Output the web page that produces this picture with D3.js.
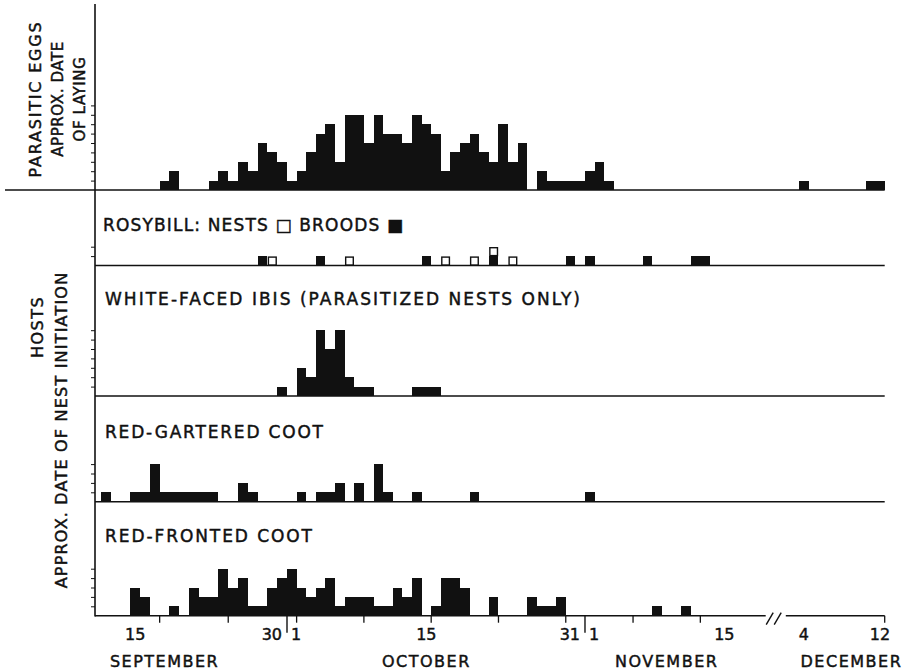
<!DOCTYPE html>
<html><head><meta charset="utf-8">
<script src="https://cdn.jsdelivr.net/npm/d3@7"></script>
<style>
body{margin:0;background:#fff;}
svg{display:block;background:#fff;}
text{font-family:"DejaVu Sans",sans-serif;fill:#111;stroke:#111;stroke-width:0.45px;}
</style></head><body>
<svg id="chart" width="908" height="671"></svg>
<script>
// ---------------- data ----------------
const eggDays   = ["Sep 18","Sep 19","Sep 23","Sep 24","Sep 25","Sep 26","Sep 27","Sep 28","Sep 29","Sep 30",
                   "Oct 1","Oct 2","Oct 3","Oct 4","Oct 5","Oct 6","Oct 7","Oct 8","Oct 9","Oct 10",
                   "Oct 11","Oct 12","Oct 13","Oct 14","Oct 15","Oct 16","Oct 17","Oct 18","Oct 19","Oct 20",
                   "Oct 21","Oct 22","Oct 23","Oct 24","Oct 25","Oct 27","Oct 28","Oct 29","Oct 30","Oct 31",
                   "Nov 1","Nov 2","Nov 3","Dec 4","Dec 11","Dec 12"];
const eggCounts = [1,2,1,2,1,3,2,5,4,3,
                   1,2,4,6,7,3,8,8,5,8,
                   6,6,5,8,7,6,2,4,5,6,
                   4,3,7,3,5,2,1,1,1,1,
                   2,3,1,1,1,1];

const rosyBroodDays = ["Sep 28","Oct 4","Oct 15","Oct 22","Oct 30","Nov 1","Nov 7","Nov 12","Nov 13"];
const rosyNestDays  = ["Sep 29","Oct 7","Oct 17","Oct 20","Oct 22","Oct 24"];

const ibisDays   = ["Sep 30","Oct 2","Oct 3","Oct 4","Oct 5","Oct 6","Oct 7","Oct 8","Oct 9","Oct 14","Oct 15","Oct 16"];
const ibisCounts = [1,3,2,7,5,7,2,1,1,1,1,1];

const gartDays   = ["Sep 12","Sep 15","Sep 16","Sep 17","Sep 18","Sep 19","Sep 20","Sep 21","Sep 22","Sep 23",
                    "Sep 26","Sep 27","Oct 2","Oct 4","Oct 5","Oct 6","Oct 8","Oct 10","Oct 11","Oct 14","Oct 20","Nov 1"];
const gartCounts = [1,1,1,4,1,1,1,1,1,1,
                    2,1,1,1,1,2,2,4,1,1,1,1];

const frontDays   = ["Sep 15","Sep 16","Sep 19","Sep 21","Sep 22","Sep 23","Sep 24","Sep 25","Sep 26","Sep 27",
                     "Sep 28","Sep 29","Sep 30","Oct 1","Oct 2","Oct 3","Oct 4","Oct 5","Oct 6","Oct 7",
                     "Oct 8","Oct 9","Oct 10","Oct 11","Oct 12","Oct 13","Oct 14","Oct 16","Oct 17","Oct 18",
                     "Oct 19","Oct 22","Oct 26","Oct 27","Oct 28","Oct 29","Nov 8","Nov 11"];
const frontCounts = [3,2,1,3,2,2,5,3,4,1,
                     1,3,4,5,3,2,3,4,1,2,
                     2,2,1,1,3,2,4,1,4,4,
                     3,2,2,1,1,2,1,1];

const weekTickDays   = ["Sep 18","Sep 25","Oct 2","Oct 9","Oct 16","Oct 23","Oct 30","Nov 6","Nov 13","Dec 13"];
const monthStartDays = ["Oct 1","Nov 1"];
const tickLabelDays  = ["Sep 15","Sep 30","Oct 1","Oct 15","Oct 31","Nov 1","Nov 15","Dec 4","Dec 12"];
const tickLabelTexts = ["15","30","1","15","31","1","15","4","12"];
const monthNames     = ["SEPTEMBER","OCTOBER","NOVEMBER","DECEMBER"];
const monthNameDays  = ["Sep 18","Oct 15","Nov 9","Dec 9"];

const rosyTitle  = "ROSYBILL:  NESTS \u25A1  BROODS \u25A0";
const ibisTitle  = "WHITE-FACED  IBIS  (PARASITIZED  NESTS  ONLY)";
const gartTitle  = "RED-GARTERED  COOT";
const frontTitle = "RED-FRONTED  COOT";
const leftTop    = ["PARASITIC EGGS","APPROX. DATE","OF LAYING"];
const leftHosts  = ["HOSTS","APPROX. DATE OF NEST INITIATION"];

// ---------------- helpers ----------------
const parseDay = d3.timeParse("%b %d");
const origin = parseDay("Sep 1");
const dayIndex = s => d3.timeDay.count(origin, parseDay(s));

const svg = d3.select("#chart");
const ink = "#111";

// piecewise day scale (break between late November and December)
const x = d3.scaleLinear()
  .domain([10.4, 30, 79.8, 92.6, 103])
  .range([95, 287, 765.7, 785.8, 884.7]);
const x0 = x(10.4), xEnd = x(103);
const unit = 9.4;

function yFor(base){ return d3.scaleLinear().domain([0,1]).range([base, base-unit]); }

// ---------------- frame ----------------
svg.append("line").attr("x1",x0).attr("x2",x0).attr("y1",4).attr("y2",616.5)
  .attr("stroke",ink).attr("stroke-width",1.6);
svg.append("line").attr("x1",5).attr("x2",xEnd).attr("y1",190).attr("y2",190)
  .attr("stroke",ink).attr("stroke-width",1.6);

// ---------------- histogram panels ----------------
const panels = [
  {base:190,   days:eggDays,   counts:eggCounts,   ticks:9},
  {base:396,   days:ibisDays,  counts:ibisCounts,  ticks:7},
  {base:501.7, days:gartDays,  counts:gartCounts,  ticks:4},
  {base:615.7, days:frontDays, counts:frontCounts, ticks:5}
];

panels.forEach((p,i) => {
  const y = yFor(p.base);
  const data = p.days.map((d,k) => ({t:dayIndex(d), v:p.counts[k]}));
  const g = svg.append("g");
  if (i===1 || i===2) {
    g.append("line").attr("x1",x0).attr("x2",xEnd).attr("y1",p.base).attr("y2",p.base)
      .attr("stroke",ink).attr("stroke-width",1.5);
  }
  g.selectAll("rect").data(data).join("rect")
    .attr("x", d => x(d.t))
    .attr("width", d => x(d.t+1) - x(d.t))
    .attr("y", d => y(d.v))
    .attr("height", d => y(0) - y(d.v))
    .attr("fill", ink)
    .attr("shape-rendering","crispEdges");
  const ax = d3.axisLeft(y).tickValues(d3.range(1, p.ticks+1)).tickSize(4).tickFormat("");
  const ga = svg.append("g").attr("transform",`translate(${x0},0)`).call(ax);
  ga.select(".domain").remove();
  ga.selectAll("line").attr("stroke",ink).attr("stroke-width",1);
});

// ---------------- rosybill squares ----------------
const rosyBase = 265.5;
const yR = yFor(rosyBase);
svg.append("line").attr("x1",x0).attr("x2",xEnd).attr("y1",rosyBase).attr("y2",rosyBase)
  .attr("stroke",ink).attr("stroke-width",1.5);
const broodIdx = rosyBroodDays.map(dayIndex);
const broodData = broodIdx.map(t => ({t, level:0, filled:true}));
const nestData = rosyNestDays.map(dayIndex).map(t => ({t, level: broodIdx.filter(b=>b===t).length, filled:false}));
svg.append("g").selectAll("rect").data(broodData).join("rect")
  .attr("x", d => x(d.t))
  .attr("width", d => x(d.t+1) - x(d.t))
  .attr("y", d => yR(d.level+1))
  .attr("height", d => yR(d.level) - yR(d.level+1))
  .attr("fill", ink)
  .attr("shape-rendering","crispEdges");
svg.append("g").selectAll("rect").data(nestData).join("rect")
  .attr("x", d => x(d.t) + 1)
  .attr("width", d => x(d.t+1) - x(d.t) - 2)
  .attr("y", d => yR(d.level+1) + 1)
  .attr("height", d => (yR(d.level) - yR(d.level+1)) - 1.5)
  .attr("fill", "#fff")
  .attr("stroke", ink)
  .attr("stroke-width", 1.4);
{
  const ax = d3.axisLeft(yR).tickValues([1,2]).tickSize(4).tickFormat("");
  const ga = svg.append("g").attr("transform",`translate(${x0},0)`).call(ax);
  ga.select(".domain").remove();
  ga.selectAll("line").attr("stroke",ink).attr("stroke-width",1);
}

// ---------------- bottom axis ----------------
const axisY = 615.7;
const brk1 = x(79.8), brk2 = x(92.6);
svg.append("line").attr("x1",x0).attr("x2",brk1).attr("y1",axisY).attr("y2",axisY)
  .attr("stroke",ink).attr("stroke-width",1.6);
svg.append("line").attr("x1",brk2).attr("x2",xEnd).attr("y1",axisY).attr("y2",axisY)
  .attr("stroke",ink).attr("stroke-width",1.6);
[brk1+4, brk1+12].forEach(bx => {
  svg.append("line").attr("x1",bx-3.5).attr("x2",bx+3.5).attr("y1",axisY+9).attr("y2",axisY-3)
    .attr("stroke",ink).attr("stroke-width",1.4);
});
svg.append("g").selectAll("line").data(weekTickDays.map(dayIndex)).join("line")
  .attr("x1", t => x(t)).attr("x2", t => x(t))
  .attr("y1", axisY).attr("y2", axisY+7)
  .attr("stroke",ink).attr("stroke-width",1.3);
svg.append("g").selectAll("line").data(monthStartDays.map(dayIndex)).join("line")
  .attr("x1", t => x(t)).attr("x2", t => x(t))
  .attr("y1", axisY).attr("y2", axisY+17)
  .attr("stroke",ink).attr("stroke-width",1.4);

tickLabelDays.forEach((d,k) => {
  const t = dayIndex(d);
  const date = parseDay(d);
  const isFirst = date.getDate() === 1;
  const isLast = d3.timeDay.offset(date,1).getDate() === 1;
  let px = x(t+0.5), anchor = "middle";
  if (isLast) { px = x(t+1) - 5; anchor = "end"; }
  if (isFirst) { px = x(t) + 4; anchor = "start"; }
  svg.append("text").attr("x",px).attr("y",640).attr("text-anchor",anchor)
    .attr("font-size",16).text(tickLabelTexts[k]);
});
monthNames.forEach((m,k) => {
  svg.append("text").attr("x", x(dayIndex(monthNameDays[k])+0.5)).attr("y",667)
    .attr("text-anchor","middle").attr("font-size",16).attr("letter-spacing",1.5).text(m);
});

// ---------------- panel titles ----------------
function title(str, tx, ty, len){
  svg.append("text").attr("x",tx).attr("y",ty).attr("font-size",17)
    .attr("textLength",len).attr("lengthAdjust","spacing").text(str);
}
title(rosyTitle, 103, 230.5, 300);
title(ibisTitle, 105, 304.5, 475);
title(gartTitle, 105, 438, 218);
title(frontTitle, 105, 541.5, 207);

// ---------------- rotated left labels ----------------
function vlabel(str, cx, cy, size, spacing){
  svg.append("text").attr("transform",`translate(${cx},${cy}) rotate(-90)`)
    .attr("text-anchor","middle").attr("dy","0.36em").attr("font-size",size)
    .attr("letter-spacing",spacing).text(str);
}
vlabel(leftTop[0], 35, 99, 16, 1.8);
vlabel(leftTop[1], 58, 99, 15, 0.6);
vlabel(leftTop[2], 80, 99, 15, 0.6);
vlabel(leftHosts[0], 37, 327, 16, 1.5);
vlabel(leftHosts[1], 61, 430, 16, 1.2);
</script>
</body></html>
